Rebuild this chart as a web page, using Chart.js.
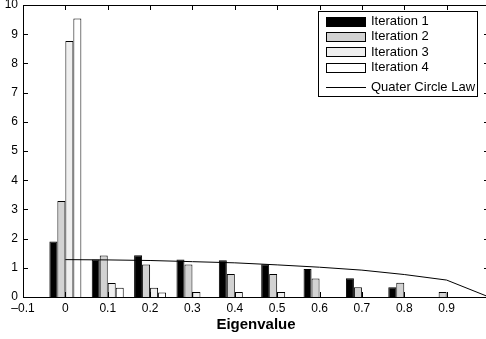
<!DOCTYPE html>
<html>
<head>
<meta charset="utf-8">
<script src="https://cdn.jsdelivr.net/npm/chart.js@4.4.0/dist/chart.umd.min.js"></script>
<style>
    html, body { margin: 0; padding: 0; overflow: hidden; background: #fff; }
    canvas { display: block; }
</style>
</head>
<body>
<canvas id="eigenChart" width="492" height="339"></canvas>
<script>
// Histogram bins (bar centres) and bar heights per iteration
const bins = [0, 0.1, 0.2, 0.3, 0.4, 0.5, 0.6, 0.7, 0.8, 0.9];
const iteration1 = [1.90, 1.28, 1.43, 1.28, 1.26, 1.12, 0.96, 0.64, 0.33, 0];
const iteration2 = [3.29, 1.42, 1.11, 1.11, 0.79, 0.79, 0.63, 0.33, 0.49, 0.17];
const iteration3 = [8.77, 0.48, 0.32, 0.17, 0.17, 0.17, 0, 0, 0, 0];
const iteration4 = [9.54, 0.32, 0.15, 0, 0, 0, 0, 0, 0, 0];

// Quarter circle law curve
const lawX = [0, 0.1, 0.2, 0.3, 0.4, 0.5, 0.6, 0.7, 0.8, 0.9, 1.0];
const lawY = [1.28, 1.27, 1.25, 1.21, 1.17, 1.10, 1.02, 0.92, 0.77, 0.58, 0];

// Axis ticks
const xTicks = [-0.1, 0, 0.1, 0.2, 0.3, 0.4, 0.5, 0.6, 0.7, 0.8, 0.9, 1.0];
const yTicks = [0, 1, 2, 3, 4, 5, 6, 7, 8, 9, 10];

const FONT = "'Liberation Sans', Arial, Helvetica, sans-serif";

const colors = {
    it1: '#000000',
    it2: '#d2d2d2',
    it3: '#efefef',
    it4: '#ffffff'
};

function points(xs, ys) {
    return xs.map((x, i) => ({ x: x, y: ys[i] }));
}

function tickText(v) {
    const r = Math.round(v * 10) / 10;
    if (r >= 1) return '';
    if (r === 0) return '0';
    if (r < 0) return '\u2013' + Math.abs(r).toFixed(1);
    return r.toFixed(1);
}

// MATLAB-like box with inward ticks plus boxed legend
const matlabFrame = {
    id: 'matlabFrame',
    afterDatasetsDraw(chart) {
        const { ctx, chartArea: a, scales: { x, y } } = chart;
        const len = 5;
        ctx.save();
        ctx.strokeStyle = '#000';
        ctx.lineWidth = 1;
        ctx.beginPath();
        xTicks.forEach(v => {
            const px = Math.round(x.getPixelForValue(v)) + 0.5;
            ctx.moveTo(px, a.bottom);
            ctx.lineTo(px, a.bottom - len);
            ctx.moveTo(px, a.top);
            ctx.lineTo(px, a.top + len);
        });
        yTicks.forEach(v => {
            const py = Math.round(y.getPixelForValue(v)) + 0.5;
            ctx.moveTo(a.left, py);
            ctx.lineTo(a.left + len, py);
            ctx.moveTo(a.right, py);
            ctx.lineTo(a.right - len, py);
        });
        ctx.stroke();
        ctx.strokeRect(Math.round(a.left) + 0.5, Math.round(a.top) + 0.5,
            Math.round(a.right - a.left), Math.round(a.bottom - a.top));
        ctx.restore();
    },
    afterDraw(chart) {
        const ctx = chart.ctx;
        const box = { left: 318.5, top: 11.5, width: 159, height: 85 };
        ctx.save();
        ctx.fillStyle = '#fff';
        ctx.strokeStyle = '#000';
        ctx.lineWidth = 1;
        ctx.fillRect(box.left, box.top, box.width, box.height);
        ctx.strokeRect(box.left, box.top, box.width, box.height);
        ctx.font = '13px ' + FONT;
        ctx.textBaseline = 'middle';
        ctx.textAlign = 'left';
        chart.data.datasets.forEach((ds, i) => {
            ctx.fillStyle = '#000';
            if (ds.type === 'line') {
                const cy = 87.5;
                ctx.beginPath();
                ctx.moveTo(326, cy);
                ctx.lineTo(366, cy);
                ctx.stroke();
                ctx.fillText(ds.label, 371, cy);
            } else {
                const cy = 21.5 + i * 15.4;
                ctx.fillStyle = ds.backgroundColor;
                ctx.fillRect(326.5, Math.round(cy - 5) + 0.5, 39, 9);
                ctx.strokeRect(326.5, Math.round(cy - 5) + 0.5, 39, 9);
                ctx.fillStyle = '#000';
                ctx.fillText(ds.label, 371, cy);
            }
        });
        ctx.restore();
    }
};

const barStyle = {
    borderColor: '#000',
    borderWidth: 1,
    barPercentage: 1,
    categoryPercentage: 0.755,
    order: 1
};

new Chart(document.getElementById('eigenChart'), {
    type: 'bar',
    data: {
        datasets: [
            Object.assign({ label: 'Iteration 1', data: points(bins, iteration1), backgroundColor: colors.it1 }, barStyle),
            Object.assign({ label: 'Iteration 2', data: points(bins, iteration2), backgroundColor: colors.it2 }, barStyle),
            Object.assign({ label: 'Iteration 3', data: points(bins, iteration3), backgroundColor: colors.it3 }, barStyle),
            Object.assign({ label: 'Iteration 4', data: points(bins, iteration4), backgroundColor: colors.it4 }, barStyle),
            {
                type: 'line',
                label: 'Quater Circle Law',
                data: points(lawX, lawY),
                borderColor: '#000',
                borderWidth: 1,
                pointRadius: 0,
                fill: false,
                tension: 0,
                order: 0
            }
        ]
    },
    options: {
        responsive: false,
        animation: false,
        devicePixelRatio: 1,
        layout: { padding: { top: 5, right: 3, left: 0, bottom: 0 } },
        plugins: {
            legend: { display: false },
            tooltip: { enabled: false }
        },
        scales: {
            x: {
                type: 'linear',
                offset: false,
                min: -0.1,
                max: 1.0,
                grid: { display: false, drawTicks: false },
                border: { display: false },
                afterBuildTicks: scale => { scale.ticks = xTicks.map(v => ({ value: v })); },
                afterFit: scale => {
                    scale.height = 42;
                    scale.paddingLeft = 0;
                    scale.paddingRight = 0;
                },
                ticks: {
                    autoSkip: false,
                    maxRotation: 0,
                    padding: 4,
                    color: '#000',
                    font: { family: FONT, size: 12 },
                    callback: v => tickText(v)
                },
                title: {
                    display: true,
                    text: 'Eigenvalue',
                    color: '#000',
                    font: { family: FONT, size: 15, weight: 'bold' },
                    padding: { top: 0, bottom: 5 }
                }
            },
            y: {
                min: 0,
                max: 10,
                grid: { display: false, drawTicks: false },
                border: { display: false },
                afterBuildTicks: scale => { scale.ticks = yTicks.map(v => ({ value: v })); },
                afterFit: scale => {
                    scale.width = 23;
                    scale.paddingTop = 0;
                    scale.paddingBottom = 0;
                },
                ticks: {
                    padding: 5,
                    color: '#000',
                    font: { family: FONT, size: 12 }
                }
            }
        }
    },
    plugins: [matlabFrame]
});
</script>
</body>
</html>
